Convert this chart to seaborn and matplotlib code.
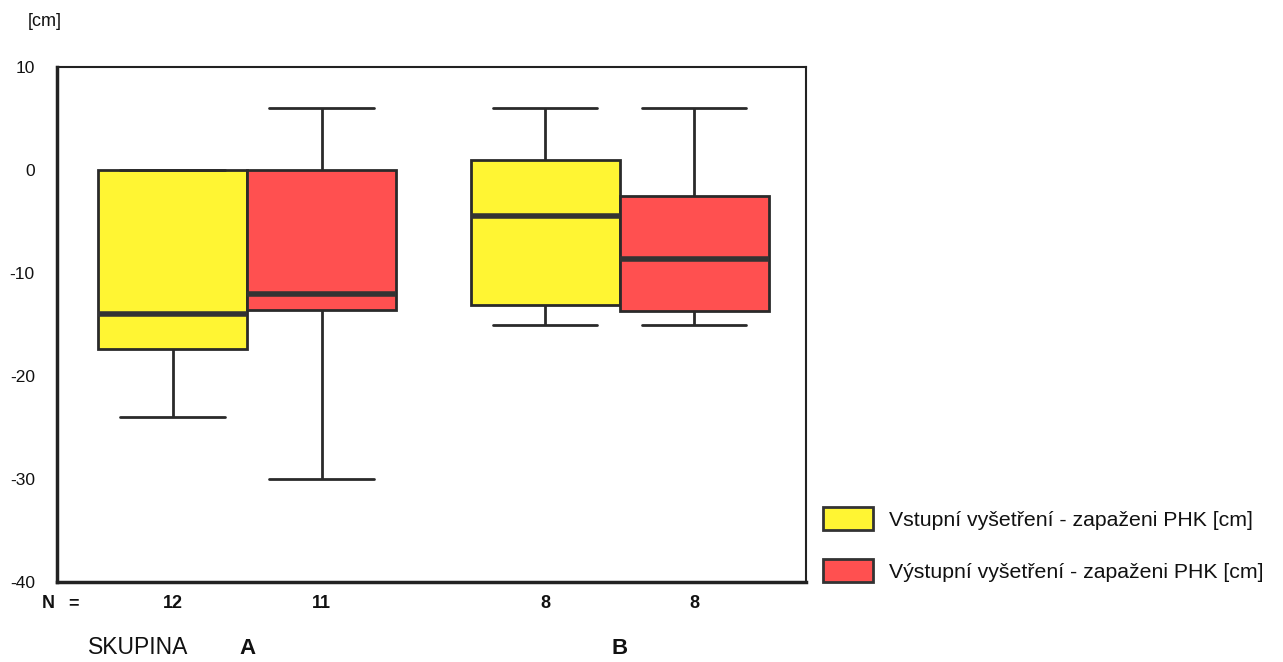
import pandas as pd
import matplotlib.pyplot as plt
import matplotlib.transforms as mtransforms
import seaborn as sns

# five-number summaries (min, q1, median, q3, max)
groups = ["A", "B"]
series = ["Vstupní vyšetření - zapaženi PHK [cm]",
          "Výstupní vyšetření - zapaženi PHK [cm]"]
summary_in = [[-24, -17.4, -14, 0, 0],       # A
              [-15, -13.1, -4.5, 1, 6]]      # B
summary_out = [[-30, -13.6, -12, 0, 6],      # A
               [-15, -13.7, -8.6, -2.5, 6]]  # B
n_counts = [[12, 11], [8, 8]]
palette = ["#FFF533", "#FF5050"]
yticks = [-40, -30, -20, -10, 0, 10]

rows = []
for gi, g in enumerate(groups):
    for s, summ in zip(series, [summary_in, summary_out]):
        for v in summ[gi]:
            rows.append({"skupina": g, "serie": s, "cm": v})
df = pd.DataFrame(rows)

sns.set_style("white")
plt.rcParams["font.family"] = ["Liberation Sans", "DejaVu Sans"]
plt.rcParams["text.color"] = "#111111"
plt.rcParams["ytick.labelcolor"] = "#111111"

fig = plt.figure(figsize=(12.83, 6.62), dpi=100)
ax = fig.add_axes([57 / 1283, 1 - 582 / 662, 749 / 1283, 515 / 662])

sns.boxplot(data=df, x="skupina", y="cm", hue="serie", order=groups,
            hue_order=series, palette=palette, saturation=1, whis=(0, 100),
            width=0.8, gap=0, linecolor="#2a2a2a", linewidth=2, capwidths=0.28,
            medianprops={"linewidth": 4, "color": "#333333"},
            showfliers=False, ax=ax)

ax.set_ylim(-40, 10)
ax.set_xlim(-0.51, 1.5)
ax.set_yticks(yticks)
ax.set_yticklabels([str(t) for t in yticks], fontsize=12.5)
ax.set_xticks([0, 1])
ax.set_xticklabels(["", ""])
ax.tick_params(axis="both", direction="out", length=4, width=2, color="#222222")
ax.tick_params(axis="y", pad=12)
ax.set_xlabel("")
ax.set_ylabel("")
for sp in ax.spines.values():
    sp.set_visible(True)
    sp.set_color("#222222")
    sp.set_linewidth(1.5)
ax.spines["left"].set_linewidth(2.5)
ax.spines["bottom"].set_linewidth(2.5)

# N labels under each box
trans = mtransforms.blended_transform_factory(ax.transData, fig.transFigure)
ny = 1 - 604 / 662
for gi in range(len(groups)):
    for si, off in enumerate([-0.2, 0.2]):
        ax.text(gi + off, ny, str(n_counts[gi][si]), transform=trans,
                ha="center", va="center", fontsize=13, fontweight="bold")
    ax.text(gi, 1 - 648 / 662, groups[gi], transform=trans, ha="center",
            va="center", fontsize=16, fontweight="bold")
fig.text(42 / 1283, ny, "N", ha="left", va="center", fontsize=13, fontweight="bold")
fig.text(68 / 1283, ny, "=", ha="left", va="center", fontsize=13, fontweight="bold")
fig.text(88 / 1283, 1 - 648 / 662, "SKUPINA", ha="left", va="center", fontsize=16.5)
fig.text(28 / 1283, 1 - 22 / 662, "[cm]", ha="left", va="center", fontsize=13)

leg = ax.legend(loc="upper left", bbox_to_anchor=(823 / 1283, 1 - 507 / 662),
                bbox_transform=fig.transFigure, frameon=False, fontsize=15.3,
                handlelength=2.35, handleheight=1.3, labelspacing=1.36,
                handletextpad=0.75, borderaxespad=0, borderpad=0)
for p in leg.get_patches():
    p.set_edgecolor("#333333")
    p.set_linewidth(2)

fig.savefig("out.png", dpi=100)
